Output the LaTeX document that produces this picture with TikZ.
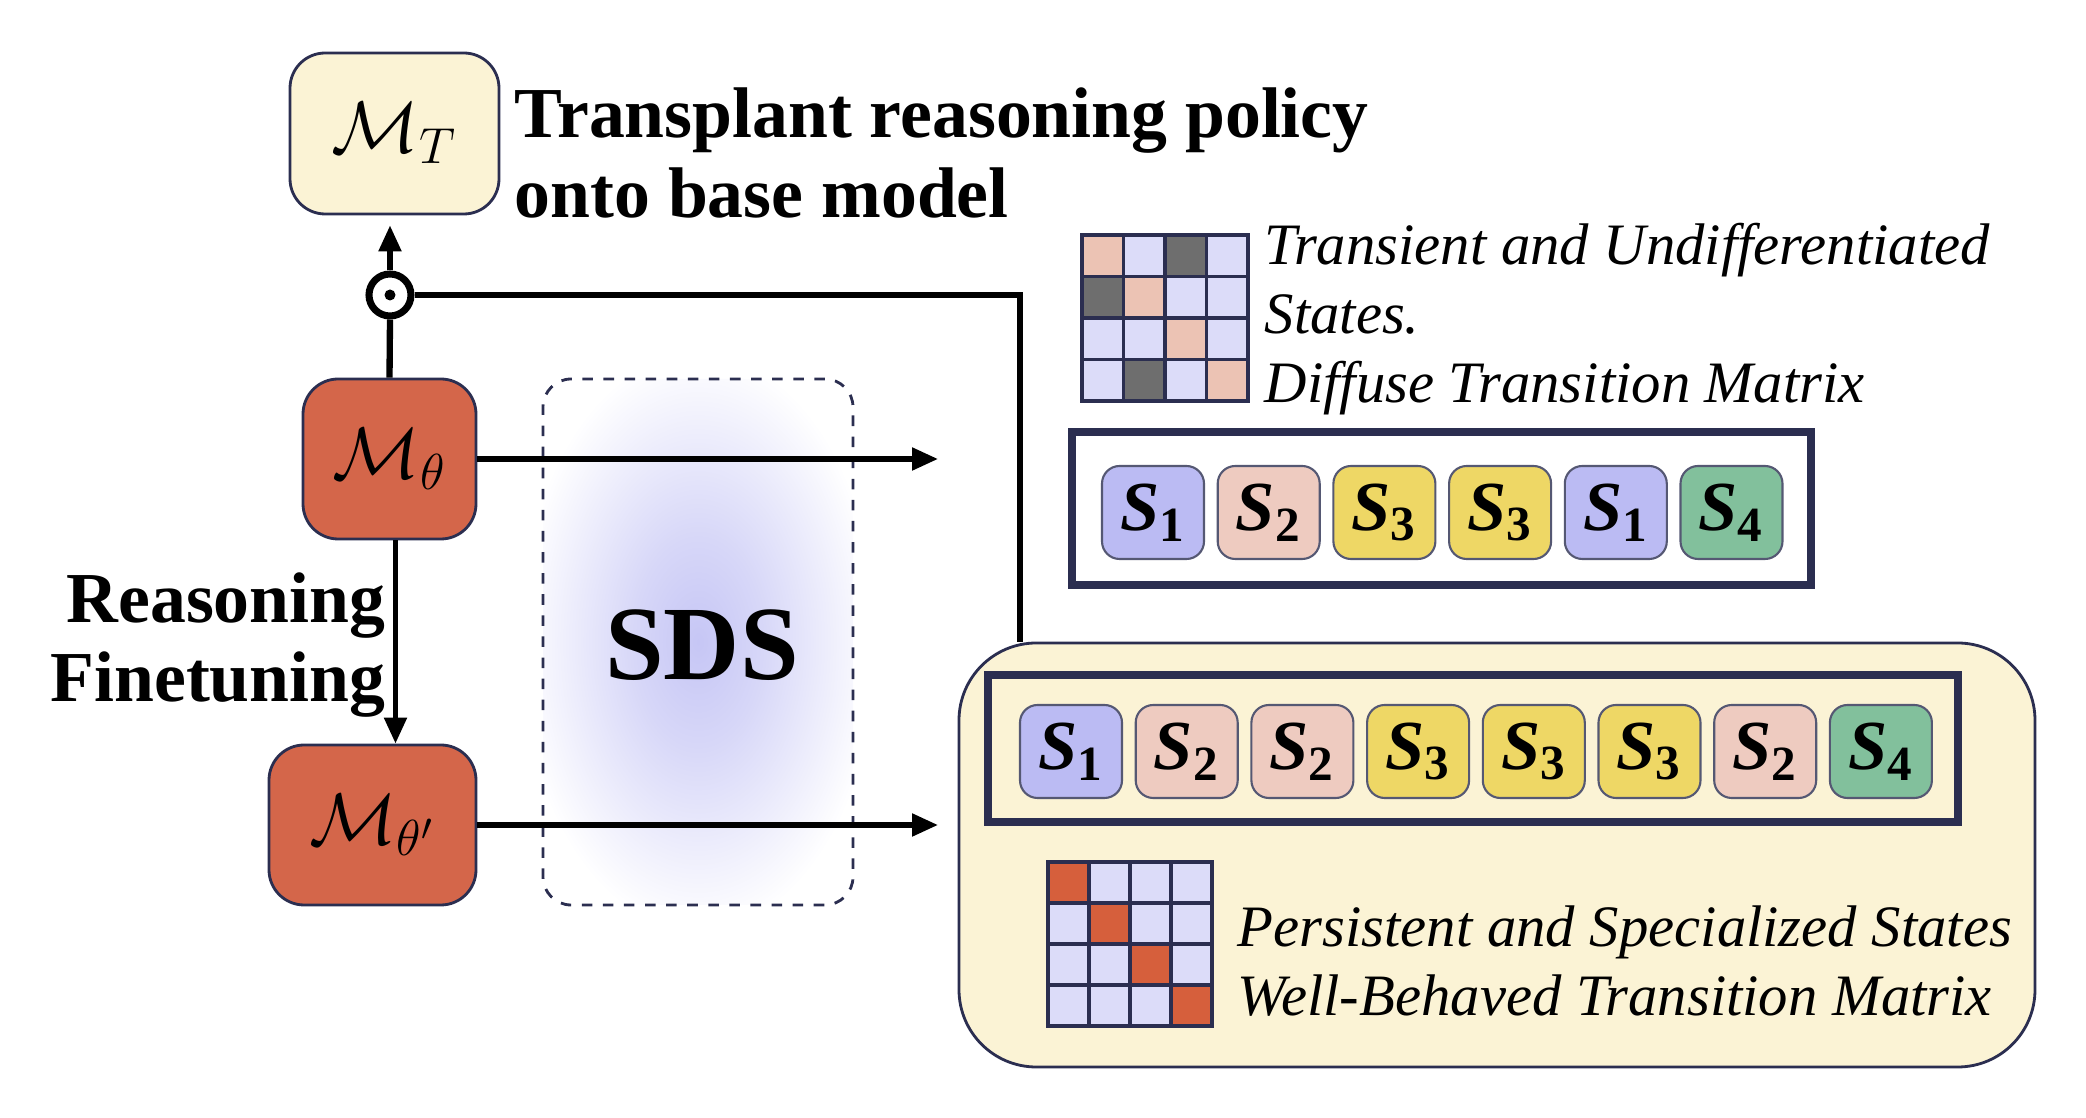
\documentclass[tikz,border=0pt]{standalone}
\usepackage{amsmath}
\usepackage{fontspec}
\setmainfont{Liberation Serif}
\usetikzlibrary{arrows.meta, positioning, calc}
\definecolor{navy}{HTML}{2B2E50}
\definecolor{paleyel}{HTML}{FBF3D5}
\definecolor{modelred}{HTML}{D4664A}
\definecolor{tlav}{HTML}{BBBBF3}
\definecolor{tpink}{HTML}{EECBC0}
\definecolor{tyel}{HTML}{EED765}
\definecolor{tgreen}{HTML}{82C09C}
\definecolor{ml}{HTML}{DCDCF9}
\definecolor{mp}{HTML}{ECC3B4}
\definecolor{mg}{HTML}{6E6E6E}
\definecolor{mo}{HTML}{D65F3C}
\definecolor{glow}{HTML}{C6C6F5}
\pgfdeclareradialshading{sdsglow}{\pgfpoint{0bp}{0bp}}{color(0bp)=(glow); color(9bp)=(glow!70!white); color(25bp)=(white); color(50bp)=(white)}

\begin{document}
\begin{tikzpicture}[
    model/.style={draw=navy, line width=0.8pt, rounded corners=10pt, fill=modelred,
        minimum height=1.6cm, font=\fontsize{22}{24}\selectfont},
    target/.style={draw=navy, line width=0.8pt, rounded corners=10pt, fill=paleyel,
        minimum width=2.09cm, minimum height=1.61cm, font=\fontsize{22}{24}\selectfont},
    statetile/.style={draw=navy!80, line width=0.6pt, rounded corners=5pt, inner sep=0pt,
        minimum width=1.02cm, minimum height=0.93cm, font=\fontsize{20}{24}\selectfont},
    seqbox/.style={draw=navy, line width=2pt, inner sep=0pt},
    heading/.style={font=\fontsize{20.4}{22.7}\selectfont\bfseries, inner sep=0pt},
    note/.style={font=\fontsize{16.7}{19.6}\selectfont\itshape, align=left, inner sep=0pt},
    cellline/.style={draw=navy, line width=0.9pt},
    arrow/.style={-{Triangle[length=2.6mm,width=2.2mm]}, line width=1.5pt},
    wire/.style={line width=1.8pt}
]
\useasboundingbox (0,0) rectangle (20.86,-11.18);

% left column
\node[target] (mt) at (3.945,-1.335) {$\mathcal{M}_T$};
\node[heading, anchor=west, align=left] (transplant) at (5.14,-1.53) {Transplant reasoning policy\\onto base model};
\node[circle, draw, line width=2pt, minimum size=0.42cm, inner sep=0pt] (odot) at (3.90,-2.95) {};
\fill (odot) circle (0.055);
\node[model, minimum width=1.73cm] (mth) at (3.895,-4.59) {$\mathcal{M}_\theta$};
\node[model, minimum width=2.07cm] (mthp) at (3.725,-8.25) {$\mathcal{M}_{\theta'}$};
\node[heading, anchor=east, align=right] (finetune) at (3.86,-6.45) {Reasoning\\Finetuning};

% SDS block
\begin{scope}
  \clip[rounded corners=8pt] (5.43,-3.79) rectangle (8.53,-9.05);
  \shade[shading=sdsglow] (6.98,-6.42) ellipse (1.8 and 2.9);
\end{scope}
\node[draw=navy, dashed, line width=0.8pt, rounded corners=8pt, minimum width=3.10cm,
    minimum height=5.26cm] (sds) at (6.98,-6.42) {};
\node[font=\fontsize{30}{32}\selectfont\bfseries] (sdstext) at (7.02,-6.45) {SDS};

\coordinate (outtop) at (9.38,-4.59);
\coordinate (outbot) at (9.38,-8.25);
\coordinate (fbk) at (10.20,-2.95);

% right side: diffuse states
\foreach \row [count=\r from 0] in {{p,l,g,l},{g,p,l,l},{l,l,p,l},{l,g,l,p}}
  \foreach \cc [count=\k from 0] in \row
    \draw[cellline, fill=m\cc] ({10.82+0.415*\k},{-2.35-0.415*\r}) rectangle ++(0.415,-0.415);
\node[note, anchor=west] (diffuse) at (12.64,-3.19) {Transient and Undifferentiated\\States.\\Diffuse Transition Matrix};
\node[seqbox, minimum width=7.39cm, minimum height=1.53cm] (seqtop) at (14.415,-5.085) {};
\foreach \st/\col [count=\i from 0] in {1/tlav,2/tpink,3/tyel,3/tyel,1/tlav,4/tgreen}
  \node[statetile, fill=\col] (top\i) at ({11.53+1.157*\i},-5.125) {$\textbf{\textit{S}}_{\textbf{\st}}$};

% right side: persistent states
\node[draw=navy, line width=0.8pt, fill=paleyel, rounded corners=22pt, minimum width=10.76cm,
    minimum height=4.24cm] (persist) at (14.97,-8.55) {};
\node[seqbox, minimum width=9.70cm, minimum height=1.47cm] (seqbot) at (14.73,-7.485) {};
\foreach \st/\col [count=\i from 0] in {1/tlav,2/tpink,2/tpink,3/tyel,3/tyel,3/tyel,2/tpink,4/tgreen}
  \node[statetile, fill=\col] (bot\i) at ({10.71+1.157*\i},-7.515) {$\textbf{\textit{S}}_{\textbf{\st}}$};
\foreach \row [count=\r from 0] in {{o,l,l,l},{l,o,l,l},{l,l,o,l},{l,l,l,o}}
  \foreach \cc [count=\k from 0] in \row
    \draw[cellline, fill=m\cc] ({10.48+0.41*\k},{-8.62-0.41*\r}) rectangle ++(0.41,-0.41);
\node[note, anchor=west] (wellbehaved) at (12.37,-9.61) {Persistent and Specialized States\\Well-Behaved Transition Matrix};

% connectors
\draw[wire] (mth.north) -- (odot.south);
\draw[arrow, shorten >=0.1cm] (odot.north) -- (odot.north |- mt.south);
\draw[arrow] ([xshift=0.06cm]mth.south) -- ([xshift=0.06cm]mth.south |- mthp.north);
\draw[arrow] (mth.east) -- (outtop);
\draw[arrow] (mthp.east) -- (outbot);
\draw[wire] (odot.east) -- (fbk) -- (fbk |- persist.north);
\end{tikzpicture}
\end{document}
